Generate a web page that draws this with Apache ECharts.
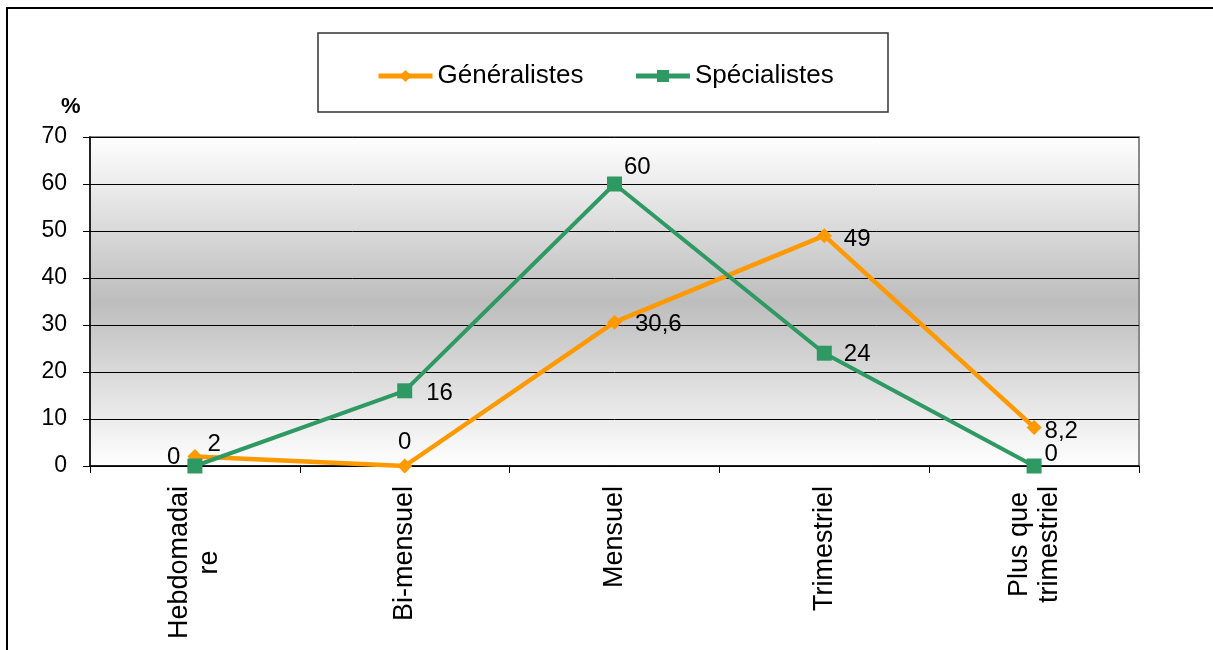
<!DOCTYPE html>
<html>
<head>
<meta charset="utf-8">
<script src="https://cdn.jsdelivr.net/npm/echarts@6/dist/echarts.min.js"></script>
<style>
  html, body { margin: 0; padding: 0; background: #fff; }
  #chart { width: 1213px; height: 650px; }
</style>
</head>
<body>
<div id="chart"></div>
<script>
// Fréquence des contacts, en %
const categories = ['Hebdomadai\nre', 'Bi-mensuel', 'Mensuel', 'Trimestriel', 'Plus que\ntrimestriel'];
const generalistes = [2, 0, 30.6, 49, 8.2];
const specialistes = [0, 16, 60, 24, 0];
const yTicks = { min: 0, max: 70, interval: 10 };

// where each value label sits relative to its point
const genLabelPos = [
  { position: 'right', offset: [0, -12] },
  { position: 'top', offset: [0, 1] },
  { position: 'right', offset: [8, 2] },
  { position: 'right', offset: [7, 4] },
  { position: 'right', offset: [-2, 4] }
];
const speLabelPos = [
  { position: 'left', offset: [-2, -9] },
  { position: 'right', offset: [9, 3] },
  { position: 'right', offset: [-3, -17] },
  { position: 'right', offset: [7, 1] },
  { position: 'right', offset: [-2, -12] }
];

const fmt = v => String(v).replace('.', ',');
const font = '"Liberation Sans", Arial, sans-serif';

function build(values, placement) {
  return values.map((v, i) => ({
    value: v,
    label: Object.assign({ show: true }, placement[i])
  }));
}

// each line of a category name is centred within its block
const centredLines = s => s.split('\n').map(line => '{c|' + line + '}').join('\n');

const chart = echarts.init(document.getElementById('chart'), null, { renderer: 'canvas' });

chart.setOption({
  animation: false,
  backgroundColor: '#fff',
  textStyle: { fontFamily: font, color: '#000' },
  grid: {
    left: 90, right: 74, top: 137, bottom: 184,
    show: true,
    borderColor: '#8a8a8a',
    borderWidth: 2,
    backgroundColor: new echarts.graphic.LinearGradient(0, 0, 0, 1, [
      { offset: 0, color: '#ffffff' },
      { offset: 0.5, color: '#bdbdbd' },
      { offset: 1, color: '#ffffff' }
    ])
  },
  legend: {
    left: 371, top: 58,
    itemWidth: 54, itemHeight: 15, itemGap: 50,
    lineStyle: { width: 5 },
    textStyle: { fontFamily: font, fontSize: 26, color: '#000' },
    data: ['Généralistes', 'Spécialistes']
  },
  xAxis: {
    type: 'category',
    data: categories,
    boundaryGap: true,
    axisLine: { lineStyle: { color: '#000', width: 1.5 } },
    axisTick: { show: true, length: 7, lineStyle: { color: '#000' } },
    axisLabel: {
      rotate: 90, margin: 20,
      fontFamily: font, fontSize: 27, lineHeight: 30, color: '#000',
      interval: 0,
      formatter: centredLines,
      rich: {
        c: { align: 'center', fontFamily: font, fontSize: 27, lineHeight: 30, color: '#000' }
      }
    }
  },
  yAxis: {
    type: 'value',
    min: yTicks.min, max: yTicks.max, interval: yTicks.interval,
    axisLine: { show: true, lineStyle: { color: '#000', width: 1.5 } },
    axisTick: { show: true, length: 7, lineStyle: { color: '#000' } },
    axisLabel: { margin: 23, fontFamily: font, fontSize: 23, color: '#000' },
    splitLine: { lineStyle: { color: '#000', width: 1 } }
  },
  graphic: [
    {
      type: 'rect', silent: true, z: -10,
      shape: { x: 7, y: 8, width: 1230, height: 680 },
      style: { fill: 'none', stroke: '#000', lineWidth: 2 }
    },
    {
      type: 'rect', silent: true,
      shape: { x: 318, y: 33, width: 570, height: 79 },
      style: { fill: 'none', stroke: '#333', lineWidth: 1.5 }
    },
    {
      type: 'text', left: 61, top: 96,
      style: { text: '%', font: 'bold 22px ' + font, fill: '#000' }
    }
  ],
  series: [
    {
      name: 'Généralistes',
      type: 'line',
      data: build(generalistes, genLabelPos),
      symbol: 'diamond', symbolSize: 15,
      itemStyle: { color: '#FF9900' },
      lineStyle: { color: '#FF9900', width: 4.5 },
      label: { fontFamily: font, fontSize: 24, color: '#000', formatter: p => fmt(p.value) },
      z: 3
    },
    {
      name: 'Spécialistes',
      type: 'line',
      data: build(specialistes, speLabelPos),
      symbol: 'rect', symbolSize: 15,
      itemStyle: { color: '#2E9963' },
      lineStyle: { color: '#2E9963', width: 4 },
      label: { fontFamily: font, fontSize: 24, color: '#000', formatter: p => fmt(p.value) },
      z: 4
    }
  ]
});
</script>
</body>
</html>
